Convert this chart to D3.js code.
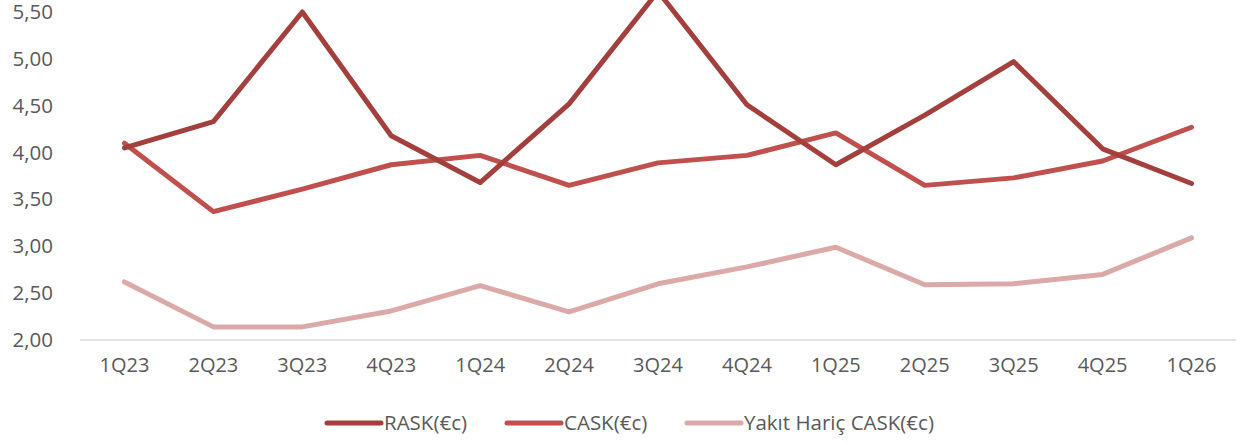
<!DOCTYPE html>
<html>
<head>
<meta charset="utf-8">
<script src="https://cdn.jsdelivr.net/npm/d3@7"></script>
<style>
  body { margin: 0; background: #fff; }
  svg { display: block; font-family: "Open Sans", sans-serif; }
</style>
</head>
<body>
<div id="chart"></div>
<script>
// quarters on the x axis
var quarters = ["1Q23","2Q23","3Q23","4Q23","1Q24","2Q24","3Q24","4Q24","1Q25","2Q25","3Q25","4Q25","1Q26"];
// values
var rask     = [4.05, 4.33, 5.50, 4.18, 3.68, 4.52, 5.72, 4.51, 3.87, 4.40, 4.97, 4.04, 3.67];
var cask     = [4.10, 3.37, 3.61, 3.87, 3.97, 3.65, 3.89, 3.97, 4.21, 3.65, 3.73, 3.91, 4.27];
var caskExFuel = [2.62, 2.14, 2.14, 2.31, 2.58, 2.30, 2.60, 2.78, 2.99, 2.59, 2.60, 2.70, 3.09];
var yTicks = [2.0, 2.5, 3.0, 3.5, 4.0, 4.5, 5.0, 5.5];
var seriesNames = ["RASK(€c)", "CASK(€c)", "Yakıt Hariç CASK(€c)"];
var colors = ["#A33F3D", "#C0504D", "#DBA9A8"];

var W = 1252, H = 444;
var svg = d3.select("#chart").append("svg")
    .attr("width", W)
    .attr("height", H);

var x = d3.scaleBand().domain(quarters).range([80, 1236]);
var y = d3.scaleLinear().domain([2, 5.5]).range([340, 12]);

// baseline
svg.append("line")
    .attr("x1", 80).attr("x2", 1236)
    .attr("y1", y(2)).attr("y2", y(2))
    .attr("stroke", "#d9d9d9").attr("stroke-width", 1.5);

// y axis
var yAxis = svg.append("g")
    .attr("transform", "translate(53,0)")
    .call(d3.axisLeft(y).tickValues(yTicks).tickSize(0).tickPadding(0)
      .tickFormat(function(d){ return d3.format(".2f")(d).replace(".", ","); }));
yAxis.select(".domain").remove();
yAxis.selectAll("text").attr("fill", "#595959").style("font-size", "20.5px")
    .style("font-family", "'Open Sans', sans-serif");

// x axis
var xAxis = svg.append("g")
    .attr("transform", "translate(0," + y(2) + ")")
    .call(d3.axisBottom(x).tickSize(0).tickPadding(18));
xAxis.select(".domain").remove();
xAxis.selectAll("text").attr("fill", "#595959").style("font-size", "20px")
    .style("font-family", "'Open Sans', sans-serif");

var line = d3.line()
    .x(function(d, i){ return x(quarters[i]) + x.bandwidth() / 2; })
    .y(function(d){ return y(d); });

// draw lighter series first so darker ones sit on top
[caskExFuel, cask, rask].forEach(function(s, k) {
  var ci = 2 - k;
  svg.append("path")
      .datum(s)
      .attr("d", line)
      .attr("fill", "none")
      .attr("stroke", colors[ci])
      .attr("stroke-width", 5)
      .attr("stroke-linejoin", "round")
      .attr("stroke-linecap", "round");
});

// legend
var legendX = [327, 507, 687];
var legend = svg.append("g");
seriesNames.forEach(function(name, i) {
  var g = legend.append("g").attr("transform", "translate(" + legendX[i] + ",423)");
  g.append("line")
      .attr("x1", 0).attr("x2", 54)
      .attr("stroke", colors[i]).attr("stroke-width", 5)
      .attr("stroke-linecap", "round");
  g.append("text")
      .attr("x", 57).attr("dy", "0.35em")
      .attr("fill", "#595959").style("font-size", "20.5px")
      .text(name);
});
</script>
</body>
</html>
